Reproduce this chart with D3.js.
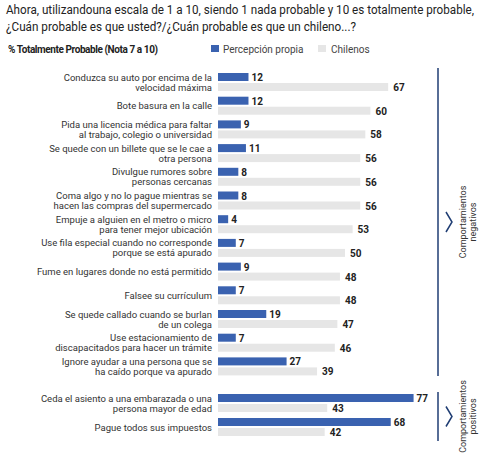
<!DOCTYPE html><html><head><meta charset="utf-8"><script src="https://cdn.jsdelivr.net/npm/d3@7"></script>
<style>body{margin:0;background:#fff}text{font-family:Roboto,"Noto Sans",sans-serif}</style></head><body><svg id="c" width="481" height="454"></svg>
<script>
const categories=[["Conduzca su auto por encima de la","velocidad máxima"],["Bote basura en la calle"],["Pida una licencia médica para faltar","al trabajo, colegio o universidad"],["Se quede con un billete que se le cae a","otra persona"],["Divulgue rumores sobre","personas cercanas"],["Coma algo y no lo pague mientras se","hacen las compras del supermercado"],["Empuje a alguien en el metro o micro","para tener mejor ubicación"],["Use fila especial cuando no corresponde","porque se está apurado"],["Fume en lugares donde no está permitido"],["Falsee su currículum"],["Se quede callado cuando se burlan","de un colega"],["Use estacionamiento de","discapacitados para hacer un trámite"],["Ignore ayudar a una persona que se","ha caído porque va apurado"],["Ceda el asiento a una embarazada o una","persona mayor de edad"],["Pague todos sus impuestos"]];
const propia=[12,12,9,11,8,8,4,7,9,7,19,7,27,77,68];
const chilenos=[67,60,58,56,56,56,53,50,48,48,47,46,39,43,42];
const svg=d3.select("#c");
const blue="#3a62b0",grey="#e6e6e6";
svg.append("text").attr("x",6).attr("y",14).attr("font-size",12).attr("fill","#222").attr("textLength",468).attr("lengthAdjust","spacingAndGlyphs").text("Ahora, utilizandouna escala de 1 a 10, siendo 1 nada probable y 10 es totalmente probable,");
svg.append("text").attr("x",6).attr("y",31).attr("font-size",12).attr("fill","#222").attr("textLength",350).attr("lengthAdjust","spacingAndGlyphs").text("¿Cuán probable es que usted?/¿Cuán probable es que un chileno...?");
svg.append("text").attr("x",8).attr("y",53).attr("font-size",10).attr("font-weight","bold").attr("fill","#222").attr("textLength",150).text("% Totalmente Probable (Nota 7 a 10)");
svg.append("rect").attr("x",211).attr("y",45).attr("width",8).attr("height",7).attr("fill",blue);
svg.append("text").attr("x",223).attr("y",53).attr("font-size",10).attr("fill","#444").text("Percepción propia");
svg.append("rect").attr("x",318).attr("y",45).attr("width",8).attr("height",7).attr("fill",grey);
svg.append("text").attr("x",331).attr("y",53).attr("font-size",10).attr("fill","#444").text("Chilenos");
const x=d3.scaleLinear().domain([0,100]).range([218,472]);
const yPos=d3.range(15).map(i=>i<13?77+i*23.7:398+(i-13)*24);
const g=svg.append("g");
categories.forEach((c,i)=>{
  const y=yPos[i];
  g.append("rect").attr("x",x(0)).attr("y",y-4).attr("width",x(propia[i])-x(0)).attr("height",8).attr("fill",blue);
  g.append("rect").attr("x",x(0)).attr("y",y+6).attr("width",x(chilenos[i])-x(0)).attr("height",8).attr("fill",grey);
  g.append("text").attr("x",x(propia[i])+3).attr("y",y+4).attr("font-size",10).attr("font-weight","bold").attr("fill","#222").text(propia[i]);
  g.append("text").attr("x",x(chilenos[i])+5).attr("y",y+14).attr("font-size",10).attr("font-weight","bold").attr("fill","#222").text(chilenos[i]);
  const cy=y+5, n=c.length;
  c.forEach((l,j)=>g.append("text").attr("x",212).attr("y",cy+3.5+(j-(n-1)/2)*10).attr("text-anchor","end").attr("font-size",9.5).attr("fill","#333").text(l));
});
const nav="#1f3d73";
function bracket(y0,y1,lines){
  svg.append("line").attr("x1",438).attr("x2",438).attr("y1",y0).attr("y2",y1).attr("stroke",nav).attr("stroke-width",1.5);
  const m=(y0+y1)/2;
  svg.append("path").attr("d",`M446,${m-10}L452,${m}L446,${m+10}`).attr("fill","none").attr("stroke",nav).attr("stroke-width",1.5);
  const t=svg.append("text").attr("transform",`translate(468,${m}) rotate(-90)`).attr("text-anchor","middle").attr("font-size",9).attr("fill","#333");
  lines.forEach((l,j)=>t.append("tspan").attr("x",0).attr("dy",j?10:-2).text(l));
}
bracket(68,376,["Comportamientos","negativos"]);
bracket(392,441,["Comportamientos","positivos"]);
</script></body></html>
